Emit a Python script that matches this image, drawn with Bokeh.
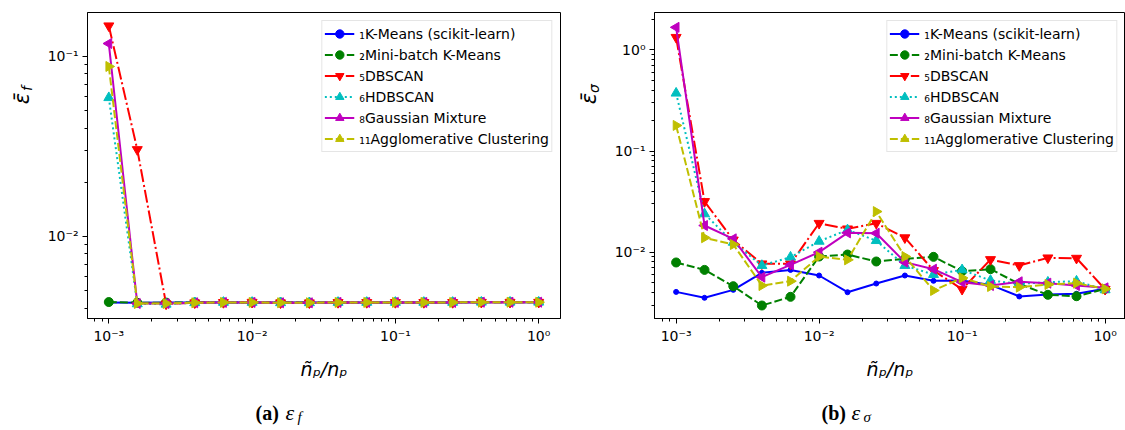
import math
from bokeh.plotting import figure
from bokeh.layouts import row, column
from bokeh.models import FixedTicker, CustomJSTickFormatter, Label
from bokeh.embed import file_html
from bokeh.resources import INLINE

# ---------------- data ----------------
x_ratio = [0.001, 0.00158, 0.00251, 0.00398, 0.00631, 0.01, 0.0158, 0.0251,
           0.0398, 0.0631, 0.1, 0.158, 0.251, 0.398, 0.631, 1.0]

series_labels = ["₁K-Means (scikit-learn)", "₂Mini-batch K-Means", "₅DBSCAN",
                 "₆HDBSCAN", "₈Gaussian Mixture", "₁₁Agglomerative Clustering"]

# (a) eps_f
kmeans_f = [0.00430, 0.00428, 0.00430, 0.00430, 0.00431, 0.00430, 0.00429, 0.00429,
            0.00430, 0.00430, 0.00430, 0.00430, 0.00430, 0.00431, 0.00431, 0.00431]
minibatch_f = [0.00432, 0.00428, 0.00429, 0.00430, 0.00430, 0.00430, 0.00430, 0.00429,
               0.00430, 0.00430, 0.00430, 0.00430, 0.00430, 0.00431, 0.00431, 0.00431]
dbscan_f = [0.148, 0.0304, 0.00422, 0.00428, 0.00430, 0.00431, 0.00428, 0.00428,
            0.00430, 0.00430, 0.00430, 0.00430, 0.00430, 0.00431, 0.00431, 0.00431]
hdbscan_f = [0.059, 0.00422, 0.00420, 0.00428, 0.00430, 0.00430, 0.00428, 0.00428,
             0.00430, 0.00430, 0.00430, 0.00430, 0.00430, 0.00431, 0.00431, 0.00431]
gmm_f = [0.118, 0.00424, 0.00424, 0.00428, 0.00430, 0.00430, 0.00428, 0.00428,
         0.00430, 0.00430, 0.00430, 0.00430, 0.00430, 0.00431, 0.00431, 0.00431]
agglo_f = [0.088, 0.00424, 0.00424, 0.00428, 0.00430, 0.00430, 0.00428, 0.00428,
           0.00430, 0.00430, 0.00430, 0.00430, 0.00430, 0.00431, 0.00431, 0.00431]

# (b) eps_sigma
kmeans_s = [0.00405, 0.00354, 0.00424, 0.00625, 0.00668, 0.00588, 0.00402, 0.0049,
            0.00588, 0.00521, 0.00525, 0.00475, 0.00365, 0.00382, 0.00388, 0.00434]
minibatch_s = [0.00791, 0.00668, 0.00461, 0.00297, 0.00362, 0.00906, 0.00948, 0.00809,
               0.00859, 0.00899, 0.00649, 0.00679, 0.00486, 0.00379, 0.00367, 0.00434]
dbscan_s = [1.33, 0.0317, 0.0132, 0.00767, 0.00767, 0.0193, 0.0170, 0.0193,
            0.0139, 0.00659, 0.0043, 0.00846, 0.00738, 0.00879, 0.00872, 0.0043]
hdbscan_s = [0.373, 0.0239, 0.0125, 0.00738, 0.00893, 0.0128, 0.0166, 0.0130,
             0.00738, 0.00601, 0.00669, 0.00525, 0.00486, 0.00505, 0.00517, 0.00424]
gmm_s = [1.67, 0.01835, 0.01355, 0.00566, 0.0075, 0.0100, 0.01553, 0.0154,
         0.00797, 0.00679, 0.00505, 0.00468, 0.0051, 0.00494, 0.00468, 0.00444]
agglo_s = [0.179, 0.0139, 0.0119, 0.00468, 0.00517, 0.00906, 0.0084, 0.0252,
           0.00906, 0.00418, 0.00557, 0.00458, 0.00451, 0.00479, 0.00494, 0.00434]

x_major = [0.001, 0.01, 0.1, 1.0]
x_tick_labels = ["10⁻³", "10⁻²", "10⁻¹", "10⁰"]
yf_major = [0.01, 0.1]
yf_tick_labels = ["10⁻²", "10⁻¹"]
ys_major = [0.01, 0.1, 1.0]
ys_tick_labels = ["10⁻²", "10⁻¹", "10⁰"]

# ---------------- styles ----------------
styles = [
    dict(color="#0000ff", dash="solid", marker="circle", size=5, angle=0.0),
    dict(color="#008000", dash="8 3", marker="circle", size=9, angle=0.0),
    dict(color="#ff0000", dash="13 3 2 3", marker="inverted_triangle", size=10, angle=0.0),
    dict(color="#00bfbf", dash="2 3", marker="triangle", size=10, angle=0.0),
    dict(color="#bf00bf", dash="solid", marker="triangle", size=10, angle=math.pi / 2),
    dict(color="#bfbf00", dash="8 3", marker="triangle", size=10, angle=-math.pi / 2),
]

minor = [m * 10.0 ** e for e in range(-4, 1) for m in range(2, 10)]

TOP_H = 388
CAP_H = 42


def fmt(tvals, tlabels):
    return CustomJSTickFormatter(args=dict(tvals=tvals, tlabels=tlabels), code="""
        for (let i = 0; i < tvals.length; i++) {
            if (Math.abs(Math.log10(tick) - Math.log10(tvals[i])) < 1e-6) return tlabels[i];
        }
        return "";
    """)


def blank(width, height):
    f = figure(width=width, height=height, x_range=(0, 1), y_range=(0, 1),
               x_axis_type=None, y_axis_type=None, output_backend="svg",
               toolbar_location=None, min_border=0)
    f.grid.visible = False
    f.outline_line_color = None
    f.background_fill_color = "white"
    f.border_fill_color = "white"
    return f


def ylabel_fig(width, cx, sub):
    f = blank(width, TOP_H)
    f.add_layout(Label(x=cx, y=TOP_H - 168, x_units="screen", y_units="screen", text="ε̄",
                       angle=math.pi / 2, text_align="center", text_baseline="middle",
                       text_font="DejaVu Sans", text_font_style="italic",
                       text_font_size="21px", text_color="black"))
    f.add_layout(Label(x=cx + 5, y=TOP_H - 158, x_units="screen", y_units="screen", text=sub,
                       angle=math.pi / 2, text_align="center", text_baseline="middle",
                       text_font="DejaVu Sans", text_font_style="italic",
                       text_font_size="14px", text_color="black"))
    return f


def make_plot(width, mb_left, mb_right, x_range, y_range, series, y_major, y_labels):
    p = figure(width=width, height=TOP_H, x_axis_type="log", y_axis_type="log",
               x_range=x_range, y_range=y_range, output_backend="svg",
               toolbar_location=None, min_border_left=mb_left, min_border_right=mb_right,
               min_border_top=12, min_border_bottom=TOP_H - 12 - 306)
    p.grid.visible = False
    p.outline_line_color = "black"
    p.outline_line_width = 1
    p.background_fill_color = "white"
    p.border_fill_color = "white"

    for vals, lab, st in zip(series, series_labels, styles):
        p.line(x_ratio, vals, line_color=st["color"], line_width=2,
               line_dash=st["dash"], legend_label=lab)
        p.scatter(x_ratio, vals, marker=st["marker"], size=st["size"], angle=st["angle"],
                  fill_color=st["color"], line_color=st["color"], legend_label=lab)

    p.xaxis.ticker = FixedTicker(ticks=x_major, minor_ticks=minor)
    p.xaxis.formatter = fmt(x_major, x_tick_labels)
    p.yaxis.ticker = FixedTicker(ticks=y_major, minor_ticks=minor)
    p.yaxis.formatter = fmt(y_major, y_labels)

    for ax in (p.xaxis[0], p.yaxis[0]):
        ax.axis_line_color = "black"
        ax.major_tick_line_color = "black"
        ax.minor_tick_line_color = "black"
        ax.major_tick_out = 5
        ax.major_tick_in = 0
        ax.minor_tick_out = 3
        ax.minor_tick_in = 0
        ax.major_label_text_font = "DejaVu Sans"
        ax.major_label_text_font_size = "14px"
        ax.major_label_text_color = "black"
        ax.major_label_standoff = 4

    p.xaxis.axis_label = "ñₚ/nₚ"
    p.xaxis.axis_label_text_font = "DejaVu Sans"
    p.xaxis.axis_label_text_font_style = "italic"
    p.xaxis.axis_label_text_font_size = "19px"
    p.xaxis.axis_label_text_color = "black"
    p.xaxis.axis_label_standoff = 11

    lg = p.legend[0]
    lg.location = "top_right"
    lg.margin = 8
    lg.padding = 2
    lg.spacing = 0
    lg.label_height = 21
    lg.glyph_height = 21
    lg.glyph_width = 30
    lg.label_standoff = 5
    lg.label_text_font = "DejaVu Sans"
    lg.label_text_font_size = "14px"
    lg.label_text_color = "black"
    lg.border_line_color = "#cccccc"
    lg.border_line_width = 1
    lg.background_fill_alpha = 0.8
    return p


# top row: [ylabel | plot (a) | ylabel | plot (b)]
yl1 = ylabel_fig(40, 21, "f")
p1 = make_plot(530, 47, 10, (7.1e-4, 1.42), (0.0035, 0.1755),
               [kmeans_f, minibatch_f, dbscan_f, hdbscan_f, gmm_f, agglo_f],
               yf_major, yf_tick_labels)
yl2 = ylabel_fig(32, 18, "σ")
p2 = make_plot(523, 52, 0, (7.06e-4, 1.389), (0.00221, 2.34),
               [kmeans_s, minibatch_s, dbscan_s, hdbscan_s, gmm_s, agglo_s],
               ys_major, ys_tick_labels)

# caption row
cap = blank(1125, CAP_H)
captions = [("(a)", "f", 255), ("(b)", "σ", 821)]
for letter, sub, x0 in captions:
    cap.add_layout(Label(x=x0, y=CAP_H - 24, x_units="screen", y_units="screen", text=letter,
                         text_align="left", text_baseline="alphabetic",
                         text_font="Liberation Serif", text_font_style="bold",
                         text_font_size="20px", text_color="black"))
    cap.add_layout(Label(x=x0 + 30, y=CAP_H - 24, x_units="screen", y_units="screen", text="ε",
                         text_align="left", text_baseline="alphabetic",
                         text_font="Liberation Serif", text_font_style="italic",
                         text_font_size="22px", text_color="black"))
    cap.add_layout(Label(x=x0 + 42, y=CAP_H - 28, x_units="screen", y_units="screen", text=sub,
                         text_align="left", text_baseline="alphabetic",
                         text_font="Liberation Serif", text_font_style="italic",
                         text_font_size="15px", text_color="black"))

layout = column(row(yl1, p1, yl2, p2), cap)
open("out.html", "w").write(file_html(layout, INLINE))
